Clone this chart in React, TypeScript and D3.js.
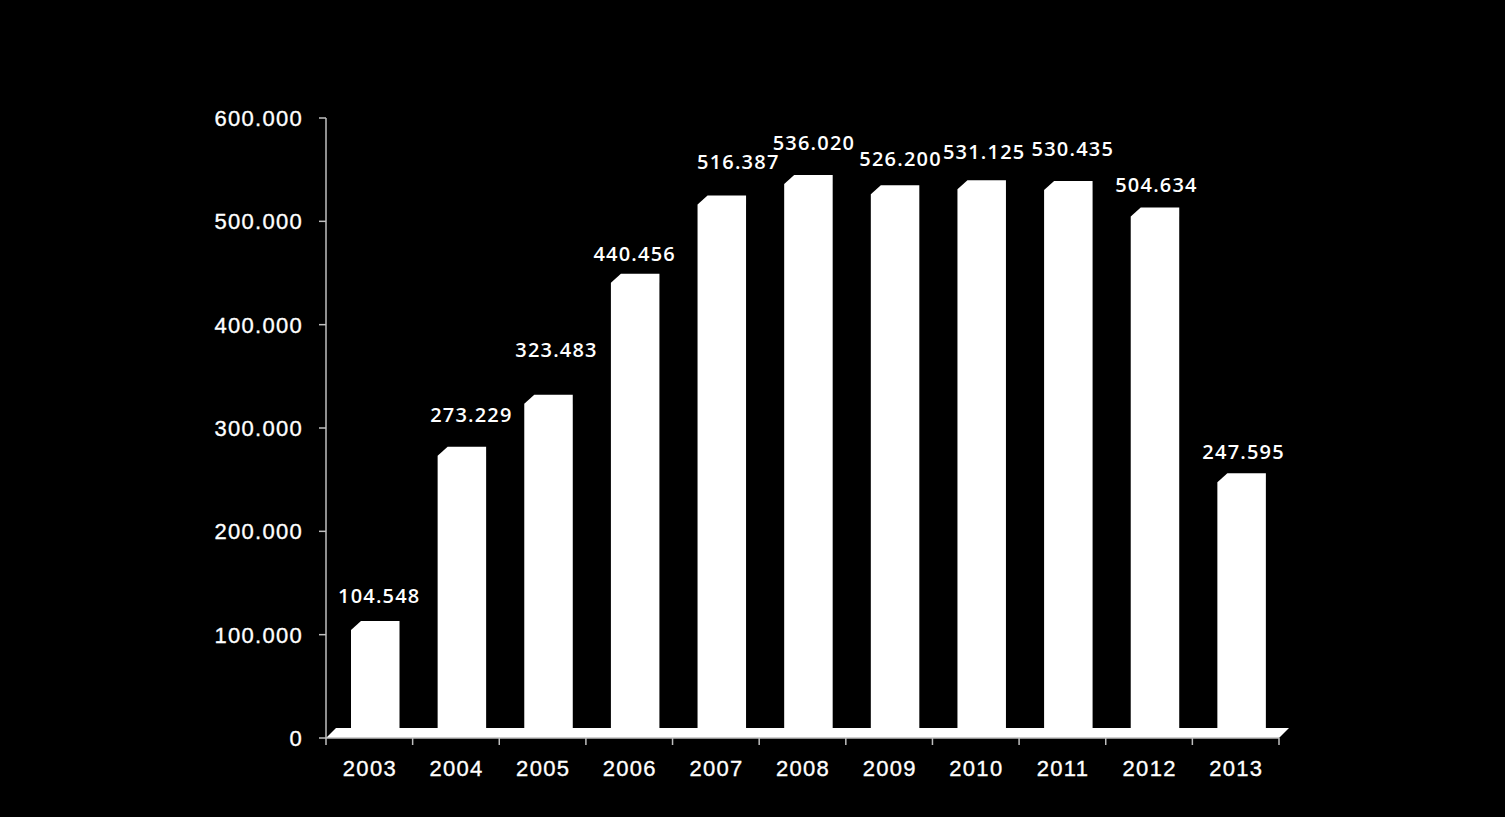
import React from 'react';
import * as d3 from 'd3';

const years = ['2003', '2004', '2005', '2006', '2007', '2008', '2009', '2010', '2011', '2012', '2013'];
const values = [104548, 273229, 323483, 440456, 516387, 536020, 526200, 531125, 530435, 504634, 247595];
const yTicks = [0, 100000, 200000, 300000, 400000, 500000, 600000];

// label placement nudges (px), as the original slide placed them by hand
const labelNudgeX = [-1, 4.5, 3, -5.5, 11.5, 0.5, 0.5, -2.5, -0.5, -3.5, -3];
const labelRise = [27, 34, 47, 22, 35, 34, 28, 30, 34, 25, 23];

const W = 1505;
const H = 817;
const DX = 10;
const DY = 9;

const loc = d3.formatLocale({ decimal: ',', thousands: '.', grouping: [3], currency: ['', '€'] });
const fmt = loc.format(',d');

export default function App() {
  const x = d3.scaleBand<string>().domain(years).range([326, 1279]).padding(0);
  const y = d3.scaleLinear().domain([0, 600000]).range([738, 118]);
  const bw = x.bandwidth();
  const front = 38.5;
  const off = 25;
  const base = y(0);

  const lineColor = '#bfbfbf';

  return (
    <div style={{ position: 'absolute', left: 0, top: 0, width: W, height: H, background: '#000' }}>
      <svg width={W} height={H} style={{ display: 'block', background: '#000' }}>
        {/* floor */}
        <polygon
          points={[
            [326, base],
            [326 + DX, base - DY - 1],
            [1279 + DX, base - DY - 1],
            [1279, base],
          ].map((p) => p.join(',')).join(' ')}
          fill="#fff"
        />
        {/* bars */}
        {years.map((yr, i) => {
          const x0 = (x(yr) as number) + off;
          const x1 = x0 + front;
          const yv = y(values[i]);
          const pts = [
            [x0, base - 2],
            [x0, yv],
            [x0 + DX, yv - DY],
            [x1 + DX, yv - DY],
            [x1 + DX, base - DY - 1],
            [x1, base - 2],
          ];
          return <polygon key={yr} points={pts.map((p) => p.join(',')).join(' ')} fill="#fff" />;
        })}
        {/* y axis */}
        <line x1={326} x2={326} y1={y(600000)} y2={base} stroke={lineColor} strokeWidth={1.5} />
        {yTicks.map((t) => (
          <g key={t}>
            <line x1={319} x2={326} y1={y(t)} y2={y(t)} stroke={lineColor} strokeWidth={1.5} />
            <text
              x={303}
              y={y(t) + 8}
              textAnchor="end"
              fill="#fff"
              stroke="#fff"
              strokeWidth={0.35}
              fontFamily="'Liberation Sans', Arial, sans-serif"
              fontSize={22}
              letterSpacing={1.3}
            >
              {fmt(t)}
            </text>
          </g>
        ))}
        {/* x axis */}
        <line x1={326} x2={1279} y1={base} y2={base} stroke={lineColor} strokeWidth={1.5} />
        {years.map((yr) => (
          <line key={'t' + yr} x1={x(yr) as number} x2={x(yr) as number} y1={base} y2={base + 7} stroke={lineColor} strokeWidth={1.5} />
        ))}
        <line x1={1279} x2={1279} y1={base} y2={base + 7} stroke={lineColor} strokeWidth={1.5} />
        {years.map((yr) => (
          <text
            key={'l' + yr}
            x={(x(yr) as number) + bw / 2 + 0.6}
            y={776}
            textAnchor="middle"
            fill="#fff"
            stroke="#fff"
            strokeWidth={0.35}
            fontFamily="'Liberation Sans', Arial, sans-serif"
            fontSize={22}
            letterSpacing={1.3}
          >
            {yr}
          </text>
        ))}
        {/* value labels */}
        {years.map((yr, i) => {
          const x0 = (x(yr) as number) + off;
          const cx = x0 + DX + front / 2 + labelNudgeX[i];
          return (
            <text
              key={'v' + yr}
              x={cx}
              y={y(values[i]) - labelRise[i]}
              textAnchor="middle"
              fill="#fff"
              fontFamily="'Open Sans', sans-serif"
              fontWeight={600}
              fontSize={20}
              letterSpacing={1.2}
            >
              {fmt(values[i])}
            </text>
          );
        })}
      </svg>
    </div>
  );
}
